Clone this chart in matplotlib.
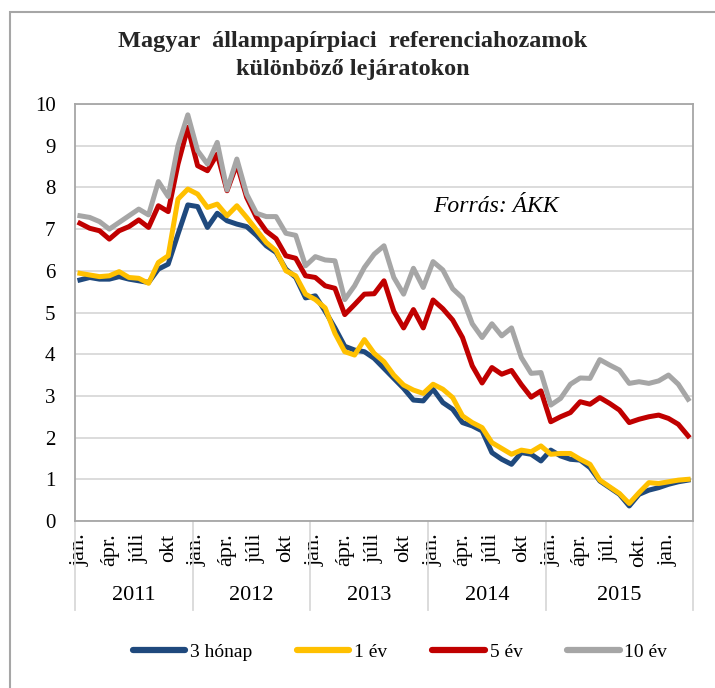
import matplotlib
matplotlib.use('Agg')
import matplotlib.pyplot as plt
import matplotlib.transforms as mtransforms
from matplotlib.patches import Rectangle
import numpy as np

plt.rcParams['font.family'] = ['Liberation Serif', 'DejaVu Serif']

# havi adatok, 2011 jan. - 2016 márc.
years = ['2011', '2012', '2013', '2014', '2015']
year_len = [12, 12, 12, 12, 15]
month_labels = ['jan.', 'ápr.', 'júli', 'okt'] * 4 + ['jan.', 'ápr.', 'júl.', 'okt.', 'jan.']

honap3 = [5.78, 5.84, 5.80, 5.80, 5.86, 5.80, 5.76, 5.72, 6.04, 6.16, 6.88, 7.58,
          7.54, 7.04, 7.38, 7.20, 7.12, 7.06, 6.85, 6.60, 6.44, 6.04, 5.84, 5.35,
          5.40, 5.03, 4.63, 4.19, 4.10, 4.06, 3.90, 3.66, 3.42, 3.18, 2.90, 2.88,
          3.16, 2.84, 2.68, 2.36, 2.28, 2.16, 1.64, 1.48, 1.36, 1.64, 1.60, 1.44,
          1.70, 1.56, 1.48, 1.46, 1.28, 0.96, 0.80, 0.64, 0.36, 0.64, 0.74, 0.80,
          0.88, 0.94, 0.98]
ev1 = [5.94, 5.90, 5.86, 5.88, 5.98, 5.84, 5.82, 5.70, 6.20, 6.36, 7.72, 7.96,
       7.84, 7.52, 7.60, 7.32, 7.56, 7.28, 6.98, 6.68, 6.48, 6.00, 5.88, 5.44,
       5.31, 5.11, 4.50, 4.06, 3.98, 4.35, 4.02, 3.82, 3.50, 3.26, 3.14, 3.06,
       3.28, 3.16, 2.96, 2.52, 2.36, 2.24, 1.88, 1.74, 1.60, 1.70, 1.66, 1.80,
       1.60, 1.62, 1.62, 1.48, 1.36, 0.98, 0.82, 0.66, 0.42, 0.68, 0.92, 0.90,
       0.94, 0.98, 1.00]
ev5 = [7.14, 7.02, 6.96, 6.76, 6.96, 7.06, 7.22, 7.04, 7.56, 7.42, 8.56, 9.44,
       8.52, 8.40, 8.80, 7.92, 8.56, 7.76, 7.28, 6.95, 6.77, 6.36, 6.30, 5.88,
       5.84, 5.64, 5.58, 4.95, 5.19, 5.44, 5.45, 5.76, 5.03, 4.63, 5.07, 4.63,
       5.30, 5.09, 4.82, 4.40, 3.72, 3.31, 3.68, 3.52, 3.61, 3.27, 2.97, 3.12,
       2.38, 2.50, 2.60, 2.86, 2.80, 2.96, 2.82, 2.66, 2.36, 2.44, 2.50, 2.54,
       2.46, 2.32, 2.04]
ev10 = [7.32, 7.28, 7.18, 7.00, 7.16, 7.32, 7.48, 7.34, 8.14, 7.78, 9.00, 9.74,
        8.88, 8.56, 9.08, 7.94, 8.68, 7.84, 7.38, 7.30, 7.30, 6.90, 6.85, 6.12,
        6.34, 6.26, 6.24, 5.31, 5.64, 6.08, 6.40, 6.60, 5.84, 5.44, 6.06, 5.60,
        6.22, 6.02, 5.57, 5.35, 4.73, 4.40, 4.73, 4.44, 4.63, 3.92, 3.54, 3.56,
        2.78, 2.94, 3.28, 3.43, 3.42, 3.87, 3.74, 3.62, 3.30, 3.34, 3.30, 3.36,
        3.50, 3.28, 2.92]

series = [('3 hónap', honap3, '#1F497D'), ('1 év', ev1, '#FFC000'),
          ('5 év', ev5, '#C00000'), ('10 év', ev10, '#A6A6A6')]

fig = plt.figure(figsize=(7.15, 6.88), dpi=100)
fig.patches.append(Rectangle((10/715, -0.1), 1.2, 1 - 12/688 + 0.1, transform=fig.transFigure,
                             fill=False, edgecolor='#A6A6A6', linewidth=1.5))
ax = fig.add_axes([75/715, 1 - 521/688, 618/715, 417/688])

x = np.arange(len(honap3))
for name, vals, col in series:
    ax.plot(x, vals, color=col, linewidth=3.6, label=name, solid_joinstyle='round')

ax.set_xlim(-0.5, len(x) - 0.5)
ax.set_ylim(0, 10)
ax.set_yticks(range(0, 11))
ax.grid(axis='y', color='#D9D9D9', linewidth=1.3)
ax.set_axisbelow(True)
for s in ax.spines.values():
    s.set_color('#A6A6A6')
    s.set_linewidth(1.3)
ax.tick_params(axis='y', length=0, labelsize=15, pad=14)

# hónap feliratok
tick_pos = []
start = 0
for n in year_len:
    tick_pos += list(range(start, start + n, 3))
    start += n
ax.set_xticks(tick_pos)
ax.set_xticklabels(month_labels, rotation=90, fontsize=16)
ax.tick_params(axis='x', length=0, pad=9)

# év csoportok
trans = mtransforms.blended_transform_factory(ax.transData, ax.transAxes)
bounds = np.cumsum([0] + year_len) - 0.5
for b in bounds:
    ax.plot([b, b], [0, -0.213], transform=trans, color='#D9D9D9', linewidth=1.3, clip_on=False)
for i, yr in enumerate(years):
    ax.text((bounds[i] + bounds[i + 1]) / 2, -0.178, yr, transform=trans,
            ha='center', va='center', fontsize=16)

ax.text(0.58, 0.755, 'Forrás: ÁKK', transform=ax.transAxes, fontsize=17, style='italic',
        va='center')

fig.text(353/715, 1 - 41/688, 'Magyar  állampapírpiaci  referenciahozamok', ha='center', va='center',
         fontsize=17.5, fontweight='bold', color='#262626')
fig.text(353/715, 1 - 70/688, 'különböző lejáratokon', ha='center', va='center',
         fontsize=17.5, fontweight='bold', color='#262626')

leg = fig.legend(loc='center', bbox_to_anchor=(400/715, 1 - 652/688), ncol=4, frameon=False,
                 fontsize=14, handlelength=2.7, handletextpad=0.25, columnspacing=2.3)
for h in leg.legend_handles:
    h.set_linewidth(4.5)
    h.set_solid_capstyle('round')

fig.savefig('out.png', dpi=100)
